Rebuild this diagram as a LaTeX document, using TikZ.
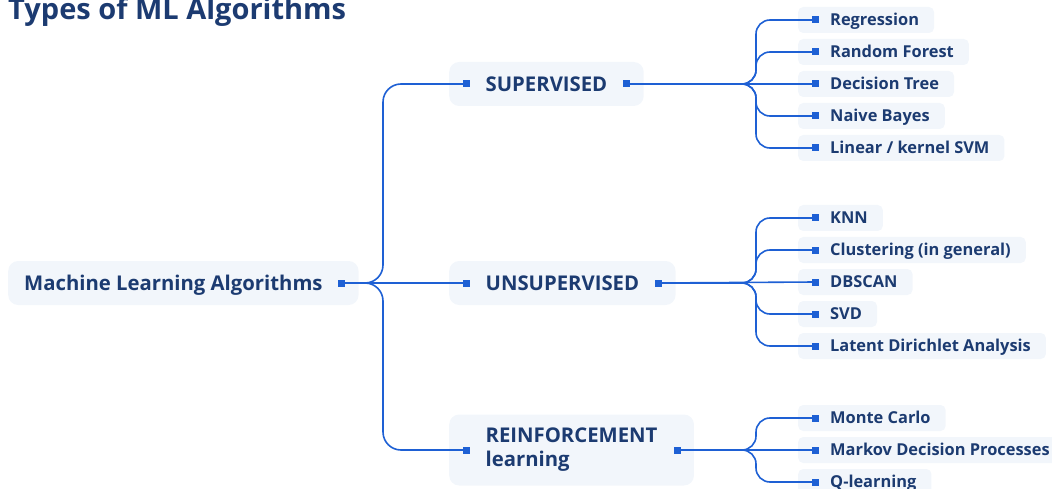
\documentclass[tikz,border=0pt]{standalone}
\usepackage{fontspec}
\setmainfont{Open Sans}
\usepackage{xcolor}
\usepackage{tikz}

\definecolor{navy}{HTML}{1C3B71}
\definecolor{linkblue}{HTML}{1E60D4}
\definecolor{boxbg}{HTML}{F2F6FB}

\tikzset{
  box/.style={fill=boxbg, rounded corners=10pt, anchor=west, inner xsep=36.5pt, inner ysep=0pt, minimum height=44pt, text=navy, font=\fontsize{20.3}{24}\selectfont\bfseries, align=left},
  onerow/.style={text height=14.5pt, text depth=0pt},
  leaf/.style={fill=boxbg, rounded corners=5pt, anchor=west, inner xsep=15pt, inner ysep=0pt, minimum height=26pt, text height=11.7pt, text depth=0pt, text=navy, font=\fontsize{16.4}{17}\selectfont\bfseries, execute at begin node={\hspace*{17pt}}},
  dot/.style={fill=linkblue, inner sep=0pt, minimum size=7pt},
  link/.style={draw=linkblue, line width=1.6pt, rounded corners=14pt},
}

\begin{document}
\begin{tikzpicture}[x=1pt,y=1pt,yscale=-1,xscale=1]
    \useasboundingbox (0,0) rectangle (1052,489);

    \node [anchor=base west, inner sep=0pt, text=navy, font=\fontsize{29}{32}\selectfont\bfseries] (title) at (8,20) {Types of ML Algorithms};

    % main boxes
    \node [box, onerow, inner xsep=16pt, execute at end node={\hspace*{20pt}}] (root) at (8,283) {Machine Learning Algorithms};
    \node [box, onerow] (sup) at (449,84) {SUPERVISED};
    \node [box, onerow] (uns) at (449,283) {UNSUPERVISED};
    \node [box, minimum height=71pt] (rei) at (449,450) {REINFORCEMENT\\learning};

    % leaves
    \foreach \n/\y/\t in {reg/20/Regression, rf/52/Random Forest, dt/84/Decision Tree, nb/116/Naive Bayes, svm/148/{Linear / kernel SVM},
                         knn/218/KNN, clu/250/Clustering (in general), dbs/282/DBSCAN, svd/314/SVD, lda/346/Latent Dirichlet Analysis,
                         mc/418/Monte Carlo, mdp/450/Markov Decision Processes, ql/482/Q-learning}
        \node [leaf] (\n) at (798,\y) {\t};

    % markers
    \node [dot] (root-r) at ([xshift=-17pt]root.east) {};
    \foreach \n in {sup,uns,rei} {
        \node [dot] (\n-l) at ([xshift=17pt]\n.west) {};
        \node [dot] (\n-r) at ([xshift=-17pt]\n.east) {};
    }
    \foreach \n in {reg,rf,dt,nb,svm,knn,clu,dbs,svd,lda,mc,mdp,ql}
        \node [dot] (\n-m) at ([xshift=17pt]\n.west) {};

    % junctions
    \coordinate (root-j) at (383,283);
    \coordinate (sup-j) at (756,84);
    \coordinate (uns-j) at (756,283);
    \coordinate (rei-j) at (756,450);

    % links
    \draw [link, rounded corners=18pt] (root-r.center) -- (root-j) |- (sup-l.center);
    \draw [link, rounded corners=18pt] (root-r.center) -- (root-j) |- (rei-l.center);
    \draw [link] (root-r.center) -- (uns-l.center);

    \foreach \n in {reg,rf,nb,svm}
        \draw [link] (sup-r.center) -- (sup-j) |- (\n-m.center);
    \draw [link] (sup-r.center) -- (dt-m.center);

    \foreach \n in {knn,clu,svd,lda}
        \draw [link] (uns-r.center) -- (uns-j) |- (\n-m.center);
    \draw [link] (uns-r.center) -- (dbs-m.center);

    \foreach \n in {mc,ql}
        \draw [link] (rei-r.center) -- (rei-j) |- (\n-m.center);
    \draw [link] (rei-r.center) -- (mdp-m.center);
\end{tikzpicture}
\end{document}
